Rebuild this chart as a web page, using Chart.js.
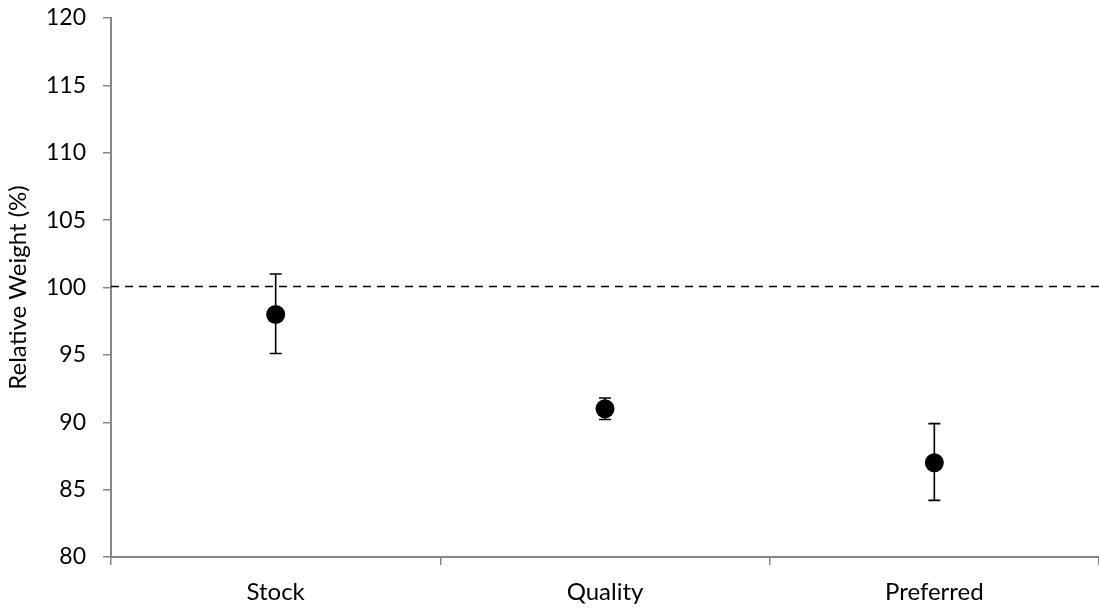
<!DOCTYPE html>
<html>
<head>
<meta charset="utf-8">
<script src="https://cdn.jsdelivr.net/npm/chart.js@4/dist/chart.umd.min.js"></script>
<style>
  html, body { margin: 0; padding: 0; background: #ffffff; }
  #wrap { width: 1099px; height: 609px; }
</style>
</head>
<body>
<div id="wrap"><canvas id="chart"></canvas></div>
<script>
// Categories and mean relative weight with error bar limits
const categories = ["Stock", "Quality", "Preferred"];
const meanWeight = [98, 91, 87];
const errLow = [95.1, 90.2, 84.2];
const errHigh = [101.0, 91.8, 89.9];
const referenceLevel = 100.1;
const yTicks = { min: 80, max: 120, step: 5 };

const axisGray = "#868686";
const fontFamily = "Lato, 'Open Sans', sans-serif";

// Vertical error bars with caps, drawn beneath the points
const errorBars = {
  id: "errorBars",
  beforeDatasetsDraw(chart) {
    const { ctx, scales } = chart;
    const meta = chart.getDatasetMeta(0);
    ctx.save();
    ctx.strokeStyle = "#000000";
    ctx.lineWidth = 1.6;
    meta.data.forEach((pt, i) => {
      const x = pt.x;
      const yLo = scales.y.getPixelForValue(errLow[i]);
      const yHi = scales.y.getPixelForValue(errHigh[i]);
      const cap = 6;
      ctx.beginPath();
      ctx.moveTo(x, yLo); ctx.lineTo(x, yHi);
      ctx.moveTo(x - cap, yLo); ctx.lineTo(x + cap, yLo);
      ctx.moveTo(x - cap, yHi); ctx.lineTo(x + cap, yHi);
      ctx.stroke();
    });
    ctx.restore();
  }
};

// Dashed horizontal reference line across the plot area
const referenceLine = {
  id: "referenceLine",
  beforeDatasetsDraw(chart) {
    const { ctx, chartArea, scales } = chart;
    const y = Math.round(scales.y.getPixelForValue(referenceLevel)) + 0.5;
    ctx.save();
    ctx.strokeStyle = "#000000";
    ctx.lineWidth = 1.6;
    ctx.setLineDash([8, 6]);
    ctx.beginPath();
    ctx.moveTo(chartArea.left, y);
    ctx.lineTo(chartArea.right, y);
    ctx.stroke();
    ctx.restore();
  }
};

new Chart(document.getElementById("chart"), {
  type: "line",
  data: {
    labels: categories,
    datasets: [{
      data: meanWeight,
      showLine: false,
      pointRadius: 9.5,
      pointHoverRadius: 9.5,
      pointBackgroundColor: "#000000",
      pointBorderColor: "#000000",
      pointBorderWidth: 0
    }]
  },
  options: {
    responsive: true,
    maintainAspectRatio: false,
    animation: false,
    events: [],
    layout: { autoPadding: false, padding: { top: 18, right: 0, bottom: 0, left: 0 } },
    plugins: {
      legend: { display: false },
      tooltip: { enabled: false }
    },
    scales: {
      x: {
        type: "category",
        offset: true,
        afterFit(scale) { scale.height = 52; },
        grid: {
          offset: true,
          drawOnChartArea: false,
          drawTicks: true,
          tickLength: 8,
          color: axisGray,
          lineWidth: 1.5
        },
        border: { color: axisGray, width: 2 },
        ticks: {
          color: "#000000",
          padding: 13,
          font: { family: fontFamily, size: 24 }
        }
      },
      y: {
        min: yTicks.min,
        max: yTicks.max,
        afterFit(scale) {
          scale.width = 111;
          scale.paddingTop = 0;
          scale.paddingBottom = 0;
        },
        grid: {
          drawOnChartArea: false,
          drawTicks: true,
          tickLength: 8,
          color: axisGray,
          lineWidth: 1.5
        },
        border: { color: axisGray, width: 2 },
        ticks: {
          stepSize: yTicks.step,
          color: "#000000",
          padding: 17,
          font: { family: fontFamily, size: 23 }
        },
        title: {
          display: true,
          text: "Relative Weight (%)",
          color: "#000000",
          padding: { top: 4, bottom: 0 },
          font: { family: fontFamily, size: 24 }
        }
      }
    }
  },
  plugins: [referenceLine, errorBars]
});
</script>
</body>
</html>
